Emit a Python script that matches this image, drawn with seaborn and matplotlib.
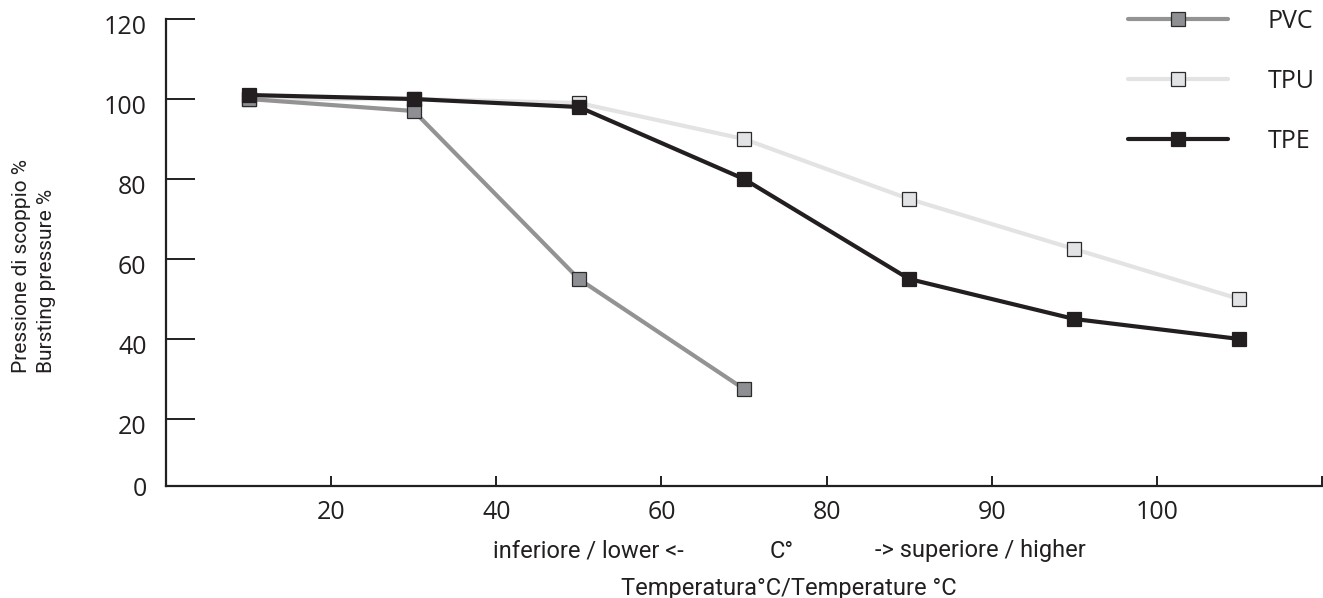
import numpy as np
import pandas as pd
import matplotlib
matplotlib.use("Agg")
import matplotlib.pyplot as plt
import matplotlib.transforms as mtransforms
import seaborn as sns

# ---- data ----
temperatures = [10, 30, 50, 70, 85, 95, 105]      # measurement points (between tick marks)
tick_labels = ["20", "40", "60", "80", "90", "100"]
pvc = [100, 97, 55, 27.5]
tpu = [100, 100, 99, 90, 75, 62.5, 50]
tpe = [101, 100, 98, 80, 55, 45, 40]
y_ticks = [20, 40, 60, 80, 100, 120]

sns.set_theme(style="white")
plt.rcParams['font.family'] = ['Open Sans', 'DejaVu Sans']
cond = ['Liberation Sans Narrow', 'Roboto', 'DejaVu Sans']

W, H = 1323, 598
fig = plt.figure(figsize=(W / 100, H / 100), dpi=100)
ax = fig.add_axes([166 / W, (H - 486) / H, 1156 / W, 467 / H])

dark = "#231f20"
series = [
    ("TPU", tpu, "#e3e3e3", "#e2e3e5", "#2b2b2b", 2),
    ("PVC", pvc, "#939393", "#8e8f92", "#2b2b2b", 3),
    ("TPE", tpe, dark, dark, dark, 4),
]
pos = np.arange(len(temperatures)) + 0.5   # categorical slot centers
handles = {}
for name, vals, lc, fc, ec, z in series:
    x = pos[:len(vals)]
    sns.lineplot(x=x, y=vals, ax=ax, color=lc, linewidth=3.0, marker="s",
                 markersize=9.5, markerfacecolor=fc, markeredgecolor=ec,
                 markeredgewidth=0.9, zorder=z, label=name)
    handles[name] = ax.lines[-1]

y_bottom = 3.25
ax.set_xlim(0, len(temperatures))
ax.set_ylim(y_bottom, 120)

ax.set_xticks(np.arange(1, len(temperatures) + 1))
ax.set_xticklabels(tick_labels + [""])
ax.set_yticks([y_bottom] + y_ticks)
ax.set_yticklabels(["0"] + [str(v) for v in y_ticks])

for s in ["top", "right"]:
    ax.spines[s].set_visible(False)
for s in ["left", "bottom"]:
    ax.spines[s].set_color(dark)
    ax.spines[s].set_linewidth(1.6)

ax.tick_params(axis="x", direction="in", length=7, width=1.4, color=dark,
               labelsize=18, labelcolor=dark, pad=10, bottom=True)
ax.tick_params(axis="y", direction="in", length=21, width=1.4, color=dark,
               labelsize=18, labelcolor=dark, pad=14, left=True)
offset = mtransforms.ScaledTranslation(0, -5 / 100, fig.dpi_scale_trans)
for lab in ax.get_yticklabels()[1:]:
    lab.set_transform(lab.get_transform() + offset)

ax.grid(False)

# legend
leg = ax.legend([handles["PVC"], handles["TPU"], handles["TPE"]], ["PVC", "TPU", "TPE"],
                loc="upper left", bbox_to_anchor=(1128 / W, 1 - 9 / H),
                bbox_transform=fig.transFigure, frameon=False, fontsize=18,
                handlelength=4.0, handletextpad=1.6, labelspacing=1.4,
                borderpad=0, borderaxespad=0)
for t in leg.get_texts():
    t.set_color(dark)

# axis titles
ax.set_xlabel("Temperatura°C/Temperature °C", family=cond, fontsize=17, color=dark)
ax.xaxis.set_label_coords((789 - 166) / 1156, -(588 - 486) / 467)
ax.xaxis.label.set_va("center")
ax.set_ylabel("")

fig.text(588 / W, 1 - 551 / H, "inferiore / lower <-", family=cond, fontsize=17,
         color=dark, ha="center", va="center")
fig.text(782 / W, 1 - 551 / H, "C°", family=cond, fontsize=17,
         color=dark, ha="center", va="center")
fig.text(980 / W, 1 - 551 / H, "-> superiore / higher", family=cond, fontsize=17,
         color=dark, ha="center", va="center")
fig.text(34 / W, 1 - 373 / H, "Pressione di scoppio %\nBursting pressure %", family=cond,
         fontsize=15, color=dark, ha="center", va="bottom", rotation=90,
         multialignment="left", linespacing=1.35)

fig.savefig("out.png", dpi=100)
